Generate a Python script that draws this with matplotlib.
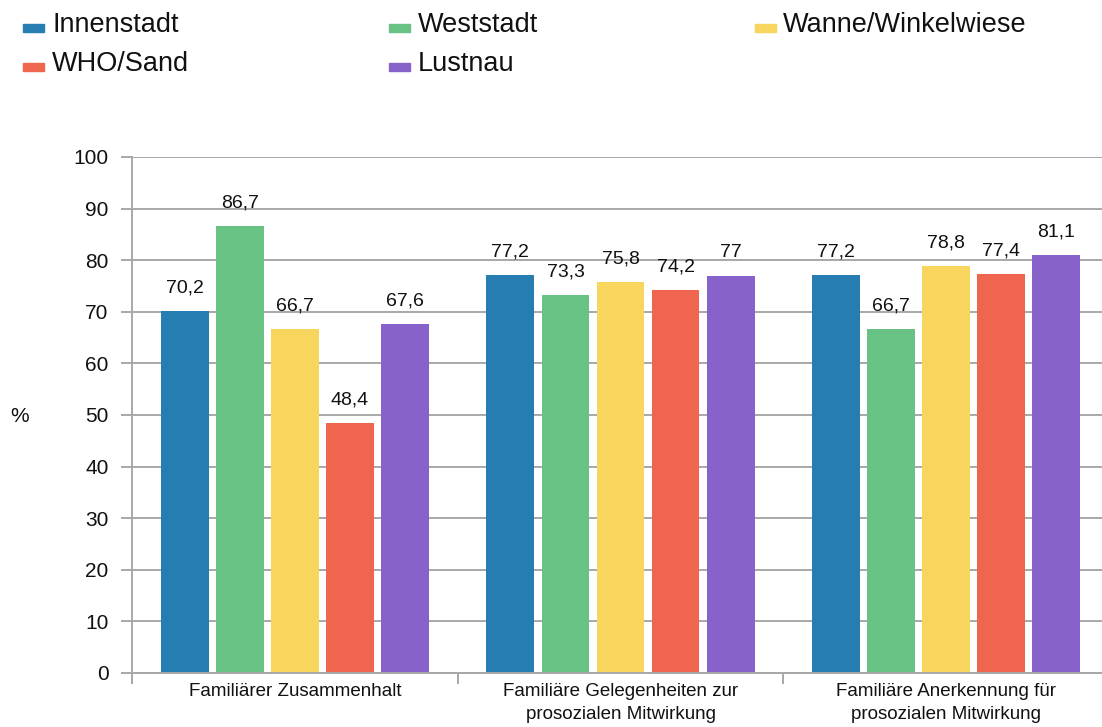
import numpy as np
import matplotlib
matplotlib.use('Agg')
import matplotlib.pyplot as plt
from matplotlib.patches import Rectangle

plt.rcParams['font.family'] = ['Liberation Sans', 'DejaVu Sans']

# data
categories = ['Familiärer Zusammenhalt',
              'Familiäre Gelegenheiten zur\nprosozialen Mitwirkung',
              'Familiäre Anerkennung für\nprosozialen Mitwirkung']
series = ['Innenstadt', 'Weststadt', 'Wanne/Winkelwiese', 'WHO/Sand', 'Lustnau']
innenstadt = [70.2, 77.2, 77.2]
weststadt = [86.7, 73.3, 66.7]
wanne = [66.7, 75.8, 78.8]
who_sand = [48.4, 74.2, 77.4]
lustnau = [67.6, 77.0, 81.1]
values = [innenstadt, weststadt, wanne, who_sand, lustnau]
colors = ['#267db2', '#68c283', '#f8d55c', '#f0654e', '#8662ca']

grid_col = '#a8a8a8'

fig = plt.figure(figsize=(11.02, 7.27), dpi=100)
W, H = 1102, 727
ax = fig.add_axes([132 / W, 54 / H, (1109 - 132) / W, 516 / H])

x = np.arange(len(categories))
width = 0.147
step = 0.169
for i, (name, vals) in enumerate(zip(series, values)):
    pos = x + (i - 2) * step
    ax.bar(pos, vals, width, color=colors[i], zorder=3)
    for px, v in zip(pos, vals):
        ax.annotate(f'{v:g}'.replace('.', ','), (px, v), xytext=(0, 16.5),
                    textcoords='offset points', ha='center', va='center',
                    fontsize=14, color='#111111')

ax.set_xlim(-0.5, 2.5)
ax.set_ylim(0, 100)
ax.set_yticks(np.arange(0, 101, 10))
ax.yaxis.grid(True, color=grid_col, linewidth=1.4, zorder=0)
ax.tick_params(axis='y', length=8, width=1.4, color=grid_col, pad=9,
               labelsize=15, labelcolor='#111111')

# category ticks between groups, labels centered
ax.set_xticks([-0.5, 0.5, 1.5, 2.5])
ax.set_xticklabels([])
ax.tick_params(axis='x', which='major', length=8, width=1.4, color=grid_col)
ax.set_xticks(x, minor=True)
ax.set_xticklabels(categories, minor=True, fontsize=13.5, color='#111111',
                   linespacing=1.45)
ax.tick_params(axis='x', which='minor', length=0, pad=7.5)

for s in ['top', 'right']:
    ax.spines[s].set_visible(False)
for s in ['left', 'bottom']:
    ax.spines[s].set_color(grid_col)
    ax.spines[s].set_linewidth(1.4)
    ax.spines[s].set_zorder(4)

fig.text(20 / W, 1 - 416 / H, '%', fontsize=15, ha='center', va='center',
         color='#111111')

# legend, laid out by hand like the original
legend_slots = [(23, 52, 31.7), (389, 418, 31.7), (755, 783, 31.7),
                (23, 52, 70.7), (389, 418, 70.7)]
for (mx, tx, base), name, c in zip(legend_slots, series, colors):
    fig.patches.append(Rectangle((mx / W, 1 - base / H), 21 / W, 8 / H,
                                 transform=fig.transFigure, color=c))
    fig.text(tx / W, 1 - base / H, name, fontsize=19.5, ha='left',
             va='baseline', color='#111111')

fig.savefig('out.png', dpi=100)
